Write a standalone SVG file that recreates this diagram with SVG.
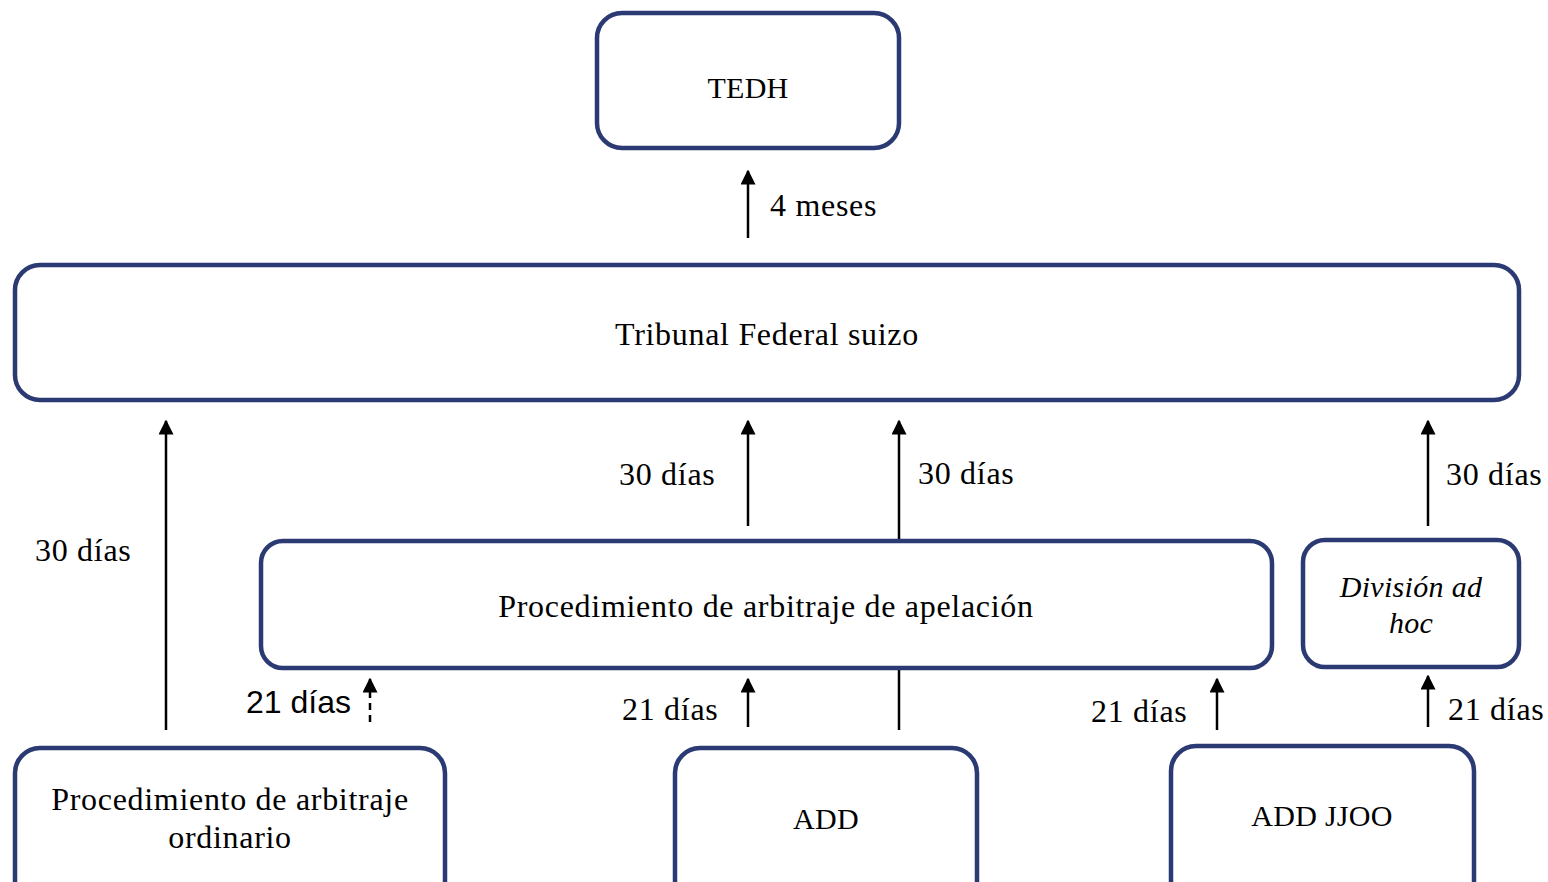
<svg xmlns="http://www.w3.org/2000/svg" width="1548" height="882" viewBox="0 0 1548 882">
<style>
.box{fill:#fff;stroke:#2B3A72;stroke-width:4.5}
.t{font-family:"Liberation Serif","DejaVu Serif",serif;font-size:32px;letter-spacing:0.7px;fill:#000;text-anchor:middle}
.k{font-size:30px;letter-spacing:0.3px}
.i{font-style:italic;font-size:30px;letter-spacing:0.3px}
.l{font-family:"Liberation Serif","DejaVu Serif",serif;font-size:32px;letter-spacing:0.7px;fill:#000}
.s{font-family:"Liberation Sans",Arial,sans-serif;font-size:32px;fill:#000}
.c{stroke:#000;stroke-width:2.5;fill:none}
</style>
<defs>
<marker id="ah" viewBox="0 0 10 10" refX="9" refY="5" markerWidth="6" markerHeight="6" markerUnits="strokeWidth" orient="auto"><path d="M0,0L10,5L0,10z" fill="#000"/></marker>
</defs>
<rect width="1548" height="882" fill="#fff"/>
<g id="connectors">
<line class="c" x1="748" y1="238" x2="748" y2="171" marker-end="url(#ah)"/>
<line class="c" x1="166" y1="730" x2="166" y2="421" marker-end="url(#ah)"/>
<line class="c" x1="748" y1="526" x2="748" y2="421" marker-end="url(#ah)"/>
<line class="c" x1="899" y1="540" x2="899" y2="421" marker-end="url(#ah)"/>
<line class="c" x1="1428" y1="526" x2="1428" y2="421" marker-end="url(#ah)"/>
<line class="c" x1="370" y1="722" x2="370" y2="679" stroke-dasharray="7,5" marker-end="url(#ah)"/>
<line class="c" x1="748" y1="727" x2="748" y2="679" marker-end="url(#ah)"/>
<line class="c" x1="899" y1="670" x2="899" y2="730"/>
<line class="c" x1="1217" y1="730" x2="1217" y2="679" marker-end="url(#ah)"/>
<line class="c" x1="1428" y1="727" x2="1428" y2="676" marker-end="url(#ah)"/>
<text class="l" x="770" y="216">4 meses</text>
<text class="l" x="35" y="561">30 días</text>
<text class="l" x="619" y="485">30 días</text>
<text class="l" x="918" y="484">30 días</text>
<text class="l" x="1446" y="485">30 días</text>
<text class="s" x="246" y="713">21 días</text>
<text class="l" x="622" y="720">21 días</text>
<text class="l" x="1091" y="722">21 días</text>
<text class="l" x="1448" y="720">21 días</text>
</g>
<g id="tedh"><rect class="box" x="597" y="13" width="302" height="135" rx="25"/><text class="t k" x="748" y="98">TEDH</text></g>
<g id="tribunal"><rect class="box" x="15" y="265" width="1504" height="135" rx="25"/><text class="t" x="767" y="345">Tribunal Federal suizo</text></g>
<g id="apelacion"><rect class="box" x="261" y="541" width="1011" height="127" rx="22"/><text class="t" x="766" y="617">Procedimiento de arbitraje de apelación</text></g>
<g id="division"><rect class="box" x="1303" y="540" width="216" height="127" rx="22"/><text class="t i" x="1411" y="597">División ad</text><text class="t i" x="1411" y="633">hoc</text></g>
<g id="ordinario"><rect class="box" x="15" y="748" width="430" height="160" rx="25"/><text class="t" x="230" y="810">Procedimiento de arbitraje</text><text class="t" x="230" y="848">ordinario</text></g>
<g id="add"><rect class="box" x="675" y="748" width="302" height="160" rx="25"/><text class="t k" x="826" y="829">ADD</text></g>
<g id="addjjoo"><rect class="box" x="1171" y="746" width="303" height="160" rx="25"/><text class="t k" x="1322" y="826">ADD JJOO</text></g>
</svg>
